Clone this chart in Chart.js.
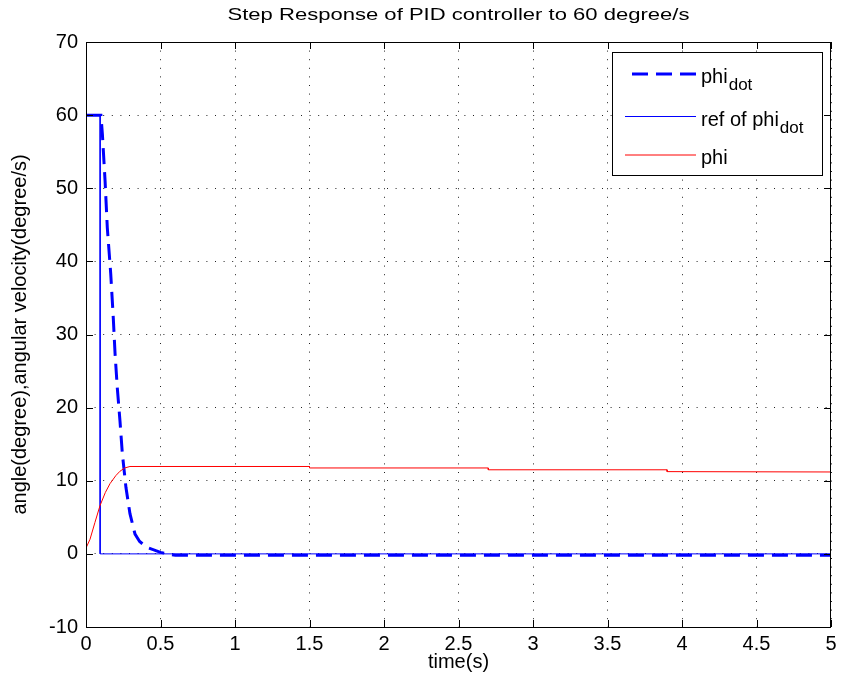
<!DOCTYPE html>
<html>
<head>
<meta charset="utf-8">
<script src="https://cdn.jsdelivr.net/npm/chart.js@4.4.0/dist/chart.umd.min.js"></script>
<style>
  html, body { margin: 0; padding: 0; background: #fff; }
  #wrap { width: 842px; height: 691px; }
</style>
</head>
<body>
<div id="wrap"><canvas id="chart"></canvas></div>
<script>
const FONT = '"Liberation Sans", Arial, Helvetica, sans-serif';
const titleText = 'Step Response of PID controller to 60 degree/s';

// tick labels
const xTicks = [0, 0.5, 1, 1.5, 2, 2.5, 3, 3.5, 4, 4.5, 5];
const yTicks = [-10, 0, 10, 20, 30, 40, 50, 60, 70];

// phi_dot (measured angular velocity)
const phiDotTime = [0, 0.1, 0.11, 0.128, 0.143, 0.166, 0.183, 0.195, 0.21, 0.228, 0.244, 0.268, 0.295, 0.329, 0.36, 0.407, 0.5, 0.6, 1, 2, 3, 4, 5];
const phiDot     = [60, 60, 57.4, 51, 44.6, 38.3, 32.3, 27.4, 22.7, 18.2, 13.7, 9.1, 5.5, 2.7, 1.7, 0.9, 0.2, -0.2, -0.2, -0.2, -0.2, -0.2, -0.2];

// reference of phi_dot (step)
const refTime = [0, 0.095, 0.095, 5];
const refVal  = [60, 60, 0, 0];

// phi (angle)
const phiTime = [0, 0.027, 0.06, 0.094, 0.13, 0.161, 0.2, 0.228, 0.26, 0.295, 1.5, 1.5, 2.7, 2.7, 3.9, 3.9, 5];
const phiVal  = [0.8, 2.0, 4.3, 6.6, 8.4, 9.6, 10.7, 11.3, 11.75, 11.95, 11.95, 11.75, 11.75, 11.5, 11.5, 11.25, 11.2];

const toPts = (xs, ys) => xs.map((x, i) => ({ x: x, y: ys[i] }));

// legend entries: [main text, subscript, colour, width, dash]
const legendItems = [
    ['phi', 'dot', '#0000ff', 3, [16, 8]],
    ['ref of phi', 'dot', '#0000ff', 1, []],
    ['phi', '', '#ff0000', 1, []]
];

const matlabFrame = {
    id: 'matlabFrame',
    afterDraw(chart) {
        const ctx = chart.ctx;
        const a = chart.chartArea;
        const xs = chart.scales.x, ys = chart.scales.y;
        ctx.save();

        // title, stretched a bit like the original bitmap font
        ctx.font = '17px ' + FONT;
        ctx.fillStyle = '#000';
        ctx.textAlign = 'center';
        ctx.textBaseline = 'alphabetic';
        const tw = ctx.measureText(titleText).width;
        ctx.translate((a.left + a.right) / 2, 20);
        ctx.scale(462 / tw, 1);
        ctx.fillText(titleText, 0, 0);
        ctx.setTransform(1, 0, 0, 1, 0, 0);

        // axes box
        ctx.strokeStyle = '#000';
        ctx.lineWidth = 1;
        ctx.setLineDash([]);
        ctx.strokeRect(a.left + 0.5, a.top + 0.5, a.right - a.left - 1, a.bottom - a.top);

        // inward tick marks
        ctx.beginPath();
        xTicks.forEach(v => {
            const px = Math.round(xs.getPixelForValue(v)) + 0.5;
            ctx.moveTo(px, a.bottom); ctx.lineTo(px, a.bottom - 7);
            ctx.moveTo(px, a.top); ctx.lineTo(px, a.top + 7);
        });
        yTicks.forEach(v => {
            const py = Math.round(ys.getPixelForValue(v)) + 0.5;
            ctx.moveTo(a.left, py); ctx.lineTo(a.left + 7, py);
            ctx.moveTo(a.right, py); ctx.lineTo(a.right - 7, py);
        });
        ctx.stroke();

        // legend
        const bx = 612, by = 52, bw = 210, bh = 123;
        ctx.fillStyle = '#fff';
        ctx.fillRect(bx, by, bw, bh);
        ctx.strokeRect(bx + 0.5, by + 0.5, bw, bh);
        const rows = [74, 116.5, 155];
        legendItems.forEach((it, i) => {
            const y = rows[i];
            ctx.strokeStyle = it[2];
            ctx.lineWidth = it[3];
            ctx.setLineDash(it[4]);
            ctx.lineDashOffset = it[4].length ? 17 : 0;
            ctx.beginPath();
            ctx.moveTo(625, y); ctx.lineTo(696, y);
            ctx.stroke();
            ctx.setLineDash([]);
            ctx.fillStyle = '#000';
            ctx.textAlign = 'left';
            ctx.font = '20px ' + FONT;
            ctx.fillText(it[0], 701, y + 9);
            if (it[1]) {
                const w = ctx.measureText(it[0]).width;
                ctx.font = '17px ' + FONT;
                ctx.fillText(it[1], 701 + w + 1, y + 16);
            }
        });
        ctx.restore();
    }
};

const gridOpts = { color: '#222', lineWidth: 1, drawTicks: false };
const borderOpts = { display: false, dash: [1, 7.6] };

new Chart('chart', {
    type: 'scatter',
    data: {
        datasets: [
            {
                label: 'phi_dot',
                data: toPts(phiDotTime, phiDot),
                showLine: true,
                borderColor: '#0000ff',
                borderWidth: 3,
                borderDash: [16, 8],
                pointRadius: 0,
                order: 3
            },
            {
                label: 'ref of phi_dot',
                data: toPts(refTime, refVal),
                showLine: true,
                borderColor: '#0000ff',
                borderWidth: 1,
                pointRadius: 0,
                order: 2
            },
            {
                label: 'phi',
                data: toPts(phiTime, phiVal),
                showLine: true,
                borderColor: '#ff0000',
                borderWidth: 1,
                pointRadius: 0,
                order: 1
            }
        ]
    },
    options: {
        responsive: true,
        maintainAspectRatio: false,
        animation: false,
        devicePixelRatio: 1,
        layout: { padding: { top: 42, right: 11, left: 0, bottom: 0 } },
        plugins: {
            legend: { display: false },
            tooltip: { enabled: false },
            title: { display: false }
        },
        scales: {
            x: {
                type: 'linear',
                min: 0,
                max: 5,
                afterBuildTicks: s => { s.ticks = xTicks.map(v => ({ value: v })); },
                afterFit: s => { s.height = 64; s.paddingLeft = 0; s.paddingRight = 0; },
                grid: gridOpts,
                border: borderOpts,
                ticks: {
                    font: { family: FONT, size: 20 },
                    color: '#000',
                    padding: 5,
                    maxRotation: 0,
                    autoSkip: false,
                    callback: v => String(v)
                },
                title: {
                    display: true,
                    text: 'time(s)',
                    font: { family: FONT, size: 20 },
                    color: '#000',
                    padding: { top: 0, bottom: 17 }
                }
            },
            y: {
                type: 'linear',
                min: -10,
                max: 70,
                afterBuildTicks: s => { s.ticks = yTicks.map(v => ({ value: v })); },
                afterFit: s => { s.width = 86; },
                grid: gridOpts,
                border: borderOpts,
                ticks: {
                    font: { family: FONT, size: 20 },
                    color: '#000',
                    padding: 8,
                    autoSkip: false
                },
                title: {
                    display: true,
                    text: 'angle(degree),angular velocity(degree/s)',
                    font: { family: FONT, size: 20 },
                    color: '#000',
                    padding: { top: 8, bottom: 0 }
                }
            }
        }
    },
    plugins: [matlabFrame]
});
</script>
</body>
</html>
